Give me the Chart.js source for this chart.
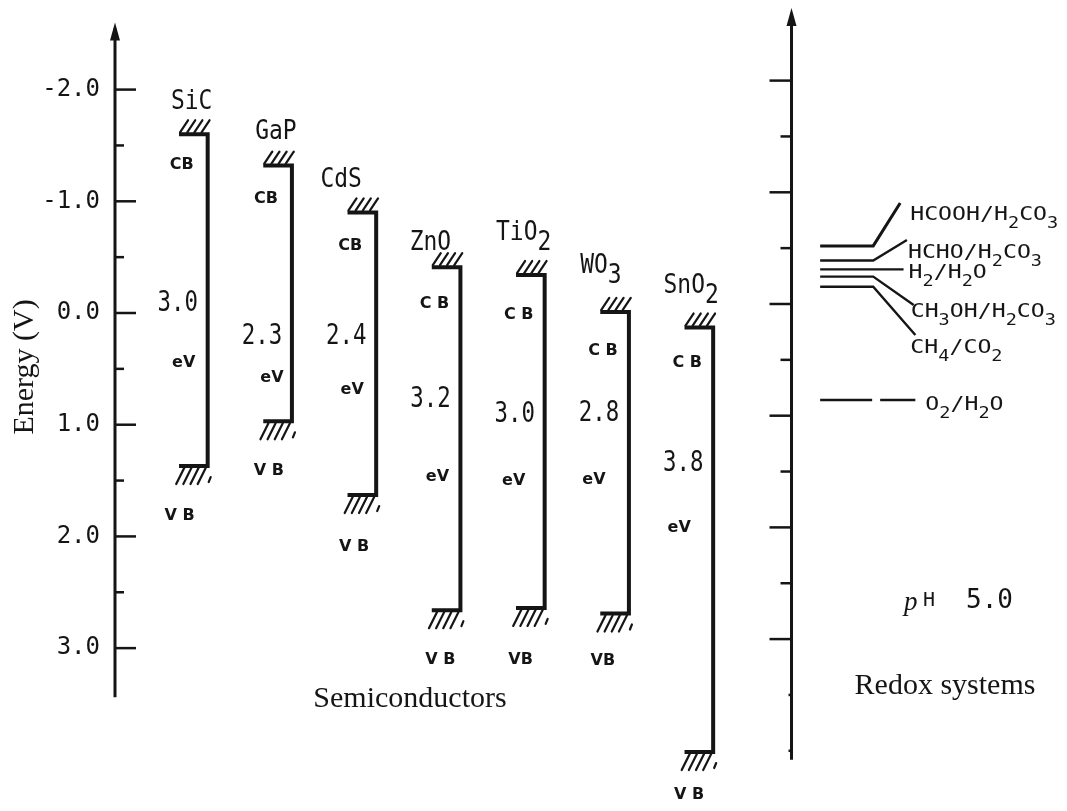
<!DOCTYPE html>
<html>
<head>
<meta charset="utf-8">
<script src="https://cdn.jsdelivr.net/npm/chart.js@4.4.1/dist/chart.umd.min.js"></script>
<style>
  html, body { margin: 0; padding: 0; background: #fff; }
  #wrap { width: 1067px; height: 811px; }
</style>
</head>
<body>
<div id="wrap"><canvas id="c"></canvas></div>
<script>
// datos del diagrama
var semis = ['SiC', 'GaP', 'CdS', 'ZnO', 'TiO2', 'WO3', 'SnO2'];
var cbEdge = [-1.6, -1.32, -0.9, -0.41, -0.34, -0.01, 0.13];
var vbEdge = [1.37, 0.97, 1.63, 2.66, 2.64, 2.69, 3.93];
var gapText = ['3.0', '2.3', '2.4', '3.2', '3.0', '2.8', '3.8'];
var cbText = ['CB', 'CB', 'CB', 'C B', 'C B', 'C B', 'C B'];
var vbText = ['V B', 'V B', 'V B', 'V B', 'VB', 'VB', 'V B'];
var energyTicks = [-2, -1, 0, 1, 2, 3];
var energyMinor = [-1.5, -0.5, 0.5, 1.5, 2.5];

var redox = ['HCOOH/H2CO3', 'HCHO/H2CO3', 'H2/H2O', 'CH3OH/H2CO3', 'CH4/CO2', 'O2/H2O'];
var redoxE = [-0.52, -0.39, -0.31, -0.245, -0.155, 0.86];
var redoxTicks = [-2, -1, 0, 1, 2, 3];
var redoxMinor = [-1.5, -0.5, 0.5, 1.5, 2.5];
var redoxStub = [3.5, 4.0];

// posiciones (no son datos)
var BAR = 0.34;
var AXIS2_X = 6.93;
var RX_START = 7.27, RX_BEND = 7.90;
var leaderEndX = [8.22, 8.30, 8.26, 8.38, 8.40, 8.40];
var leaderEndY = [-0.904, -0.573, -0.31, 0.009, 0.278, 0.86];
var labelDx = [10, 1, 5, -3, -5, 10];
var labelDy = [17, 18, 9, 12, 18, 10];
var nameDx = [-16, -16, -35, -30, -21, -28, -22];
var nameLift = [25, 27, 25, 17, 35, 39, 35];
var cbDy = [31, 33, 33, 37, 40, 39, 35];
var vbDx = [-28, -23, -22, -20, -24, -26, -24];
var vbDy = [50, 49, 52, 50, 52, 47, 43];
var gapAt = [-0.08, 0.21, 0.21, 0.78, 0.91, 0.90, 1.35];
var evAt = [0.45, 0.58, 0.69, 1.47, 1.50, 1.49, 1.92];
var evDx = [-24, -20, -24, -23, -31, -35, -34];

var ink = '#151515';
var mono = '"DejaVu Sans Mono", monospace';
var serif = '"Liberation Serif", "DejaVu Serif", serif';

var datasets = [];
for (var i = 0; i < semis.length; i++) {
  datasets.push({
    data: [{x: i - BAR, y: cbEdge[i]}, {x: i, y: cbEdge[i]}, {x: i, y: vbEdge[i]}, {x: i - BAR, y: vbEdge[i]}],
    showLine: true, borderColor: ink, borderWidth: 4, pointRadius: 0,
    borderJoinStyle: 'miter', borderCapStyle: 'butt', yAxisID: 'y'
  });
}
for (var j = 0; j < redox.length; j++) {
  var pts = [{x: RX_START, y: redoxE[j]}];
  if (j !== 2 && j !== 5) pts.push({x: RX_BEND, y: redoxE[j]});
  pts.push({x: leaderEndX[j], y: leaderEndY[j]});
  datasets.push({
    data: pts, showLine: true, borderColor: ink, borderWidth: j === 0 ? 3 : 2.4, pointRadius: 0,
    borderDash: j === 5 ? [52, 8] : [], yAxisID: 'y2'
  });
}

function subText(ctx, s, x, y, size, fam, sx, subScale, subDrop) {
  var parts = s.match(/[0-9]+|[^0-9]+/g);
  var big = size + 'px ' + fam, small = Math.round(size * subScale) + 'px ' + fam;
  ctx.save();
  ctx.translate(x, y);
  ctx.scale(sx, 1);
  ctx.textAlign = 'left';
  ctx.textBaseline = 'alphabetic';
  var cx = 0;
  parts.forEach(function (p) {
    var sub = /\d/.test(p);
    ctx.font = sub ? small : big;
    ctx.fillText(p, cx, sub ? size * subDrop : 0);
    cx += ctx.measureText(p).width;
  });
  ctx.restore();
}
function textWidth(ctx, s, size, fam, sx, subScale) {
  var w = 0;
  s.match(/[0-9]+|[^0-9]+/g).forEach(function (p) {
    ctx.font = (/\d/.test(p) ? Math.round(size * subScale) : size) + 'px ' + fam;
    w += ctx.measureText(p).width;
  });
  return w * sx;
}
function seg(ctx, x1, y1, x2, y2, w) {
  ctx.lineWidth = w;
  ctx.beginPath(); ctx.moveTo(x1, y1); ctx.lineTo(x2, y2); ctx.stroke();
}
function arrowUp(ctx, x, tip) {
  ctx.beginPath();
  ctx.moveTo(x, tip); ctx.lineTo(x - 5, tip + 18); ctx.lineTo(x + 5, tip + 18);
  ctx.closePath(); ctx.fill();
}
function hatch(ctx, x0, x1, y, below) {
  ctx.lineCap = 'round';
  if (below) {
    var st = (x1 - x0) / 4;
    for (var k = 1; k <= 4; k++) seg(ctx, x0 + st * k - 2, y + 2, x0 + st * k - 10, y + 18, 2.2);
    seg(ctx, x1 + 3, y + 11, x1 + 1, y + 16, 2.2);
  } else {
    var st2 = (x1 - x0) / 4;
    for (var m = 0; m < 4; m++) seg(ctx, x0 + st2 * m + 1, y - 2, x0 + st2 * m + 9, y - 14, 2.2);
  }
  ctx.lineCap = 'butt';
}

var decor = {
  id: 'decor',
  afterDatasetsDraw: function (chart) {
    var ctx = chart.ctx, xs = chart.scales.x, ys = chart.scales.y, y2 = chart.scales.y2;
    ctx.save();
    ctx.strokeStyle = ink; ctx.fillStyle = ink;

    // eje de energia
    var ax = ys.right;
    seg(ctx, ax, ys.getPixelForValue(-2.55), ax, ys.getPixelForValue(3.44), 3);
    arrowUp(ctx, ax, ys.getPixelForValue(-2.6));
    energyTicks.forEach(function (v) { var p = ys.getPixelForValue(v); seg(ctx, ax, p, ax + 21, p, 2.5); });
    energyMinor.forEach(function (v) { var p = ys.getPixelForValue(v); seg(ctx, ax, p, ax + 9, p, 2.5); });

    // eje redox
    var bx = xs.getPixelForValue(AXIS2_X);
    seg(ctx, bx, y2.getPixelForValue(-2.58), bx, y2.getPixelForValue(4.08), 3);
    arrowUp(ctx, bx, y2.getPixelForValue(-2.65));
    redoxTicks.forEach(function (v) { var p = y2.getPixelForValue(v); seg(ctx, bx - 22, p, bx, p, 2.5); });
    redoxMinor.forEach(function (v) { var p = y2.getPixelForValue(v); seg(ctx, bx - 11, p, bx, p, 2.5); });
    redoxStub.forEach(function (v) { var p = y2.getPixelForValue(v); seg(ctx, bx - 3, p, bx, p, 2.5); });

    // semiconductores
    for (var i = 0; i < semis.length; i++) {
      var lx = xs.getPixelForValue(i), bl = xs.getPixelForValue(i - BAR);
      var pc = ys.getPixelForValue(cbEdge[i]), pv = ys.getPixelForValue(vbEdge[i]);
      hatch(ctx, bl, lx, pc, false);
      hatch(ctx, bl, lx, pv, true);

      var nw = textWidth(ctx, semis[i], 27, mono, 0.85, 1);
      subText(ctx, semis[i], lx + nameDx[i] - nw / 2, pc - nameLift[i], 27, mono, 0.85, 1, 0.38);

      ctx.font = 'bold 16px "DejaVu Sans", sans-serif';
      ctx.textAlign = 'center'; ctx.textBaseline = 'middle';
      ctx.fillText(cbText[i], lx - 26, pc + cbDy[i]);
      ctx.fillText(vbText[i], lx + vbDx[i], pv + vbDy[i]);
      ctx.fillText('eV', lx + evDx[i], ys.getPixelForValue(evAt[i]));

      ctx.save();
      ctx.translate(lx - 30, ys.getPixelForValue(gapAt[i]));
      ctx.scale(0.8, 1);
      ctx.font = '28px ' + mono;
      ctx.fillText(gapText[i], 0, 0);
      ctx.restore();
    }

    // etiquetas redox
    for (var j = 0; j < redox.length; j++) {
      var ex = xs.getPixelForValue(leaderEndX[j]), ey = y2.getPixelForValue(leaderEndY[j]);
      subText(ctx, redox[j], ex + labelDx[j], ey + labelDy[j], 20, mono, 1.16, 0.8, 0.4);
    }

    // textos
    ctx.textAlign = 'center'; ctx.textBaseline = 'middle';
    ctx.font = '30px ' + serif;
    ctx.save();
    ctx.translate(25, 367);
    ctx.rotate(-Math.PI / 2);
    ctx.fillText('Energy (V)', 0, 0);
    ctx.restore();
    ctx.fillText('Semiconductors', 410, 699);
    ctx.fillText('Redox systems', 945, 686);

    ctx.textAlign = 'left'; ctx.textBaseline = 'alphabetic';
    ctx.font = 'italic 27px ' + serif;
    ctx.fillText('p', 904, 610);
    ctx.font = '20px ' + mono;
    ctx.fillText('H', 923, 606);
    ctx.font = '26px ' + mono;
    ctx.fillText('5.0', 966, 608);

    ctx.restore();
  }
};

new Chart(document.getElementById('c'), {
  type: 'scatter',
  data: { datasets: datasets },
  options: {
    responsive: true,
    maintainAspectRatio: false,
    animation: false,
    layout: { padding: { left: 0, right: 0, top: 20, bottom: 20 } },
    plugins: { legend: { display: false }, tooltip: { enabled: false } },
    scales: {
      x: { type: 'linear', display: false, min: -1.1, max: 10.2 },
      y: {
        type: 'linear', reverse: true, min: -2.623, max: 4.279,
        afterFit: function (s) {
          s.width = 115;
          s.paddingTop = 0; s.paddingBottom = 0; s.paddingLeft = 0; s.paddingRight = 0;
        },
        afterBuildTicks: function (s) { s.ticks = energyTicks.map(function (v) { return {value: v}; }); },
        grid: { display: false, drawTicks: false },
        border: { display: false },
        ticks: {
          padding: 15, color: ink,
          font: { family: 'DejaVu Sans Mono', size: 24 },
          callback: function (v) { return Number(v).toFixed(1); }
        }
      },
      y2: { type: 'linear', reverse: true, display: false, min: -2.5425, max: 4.360 }
    }
  },
  plugins: [decor]
});
</script>
</body>
</html>
